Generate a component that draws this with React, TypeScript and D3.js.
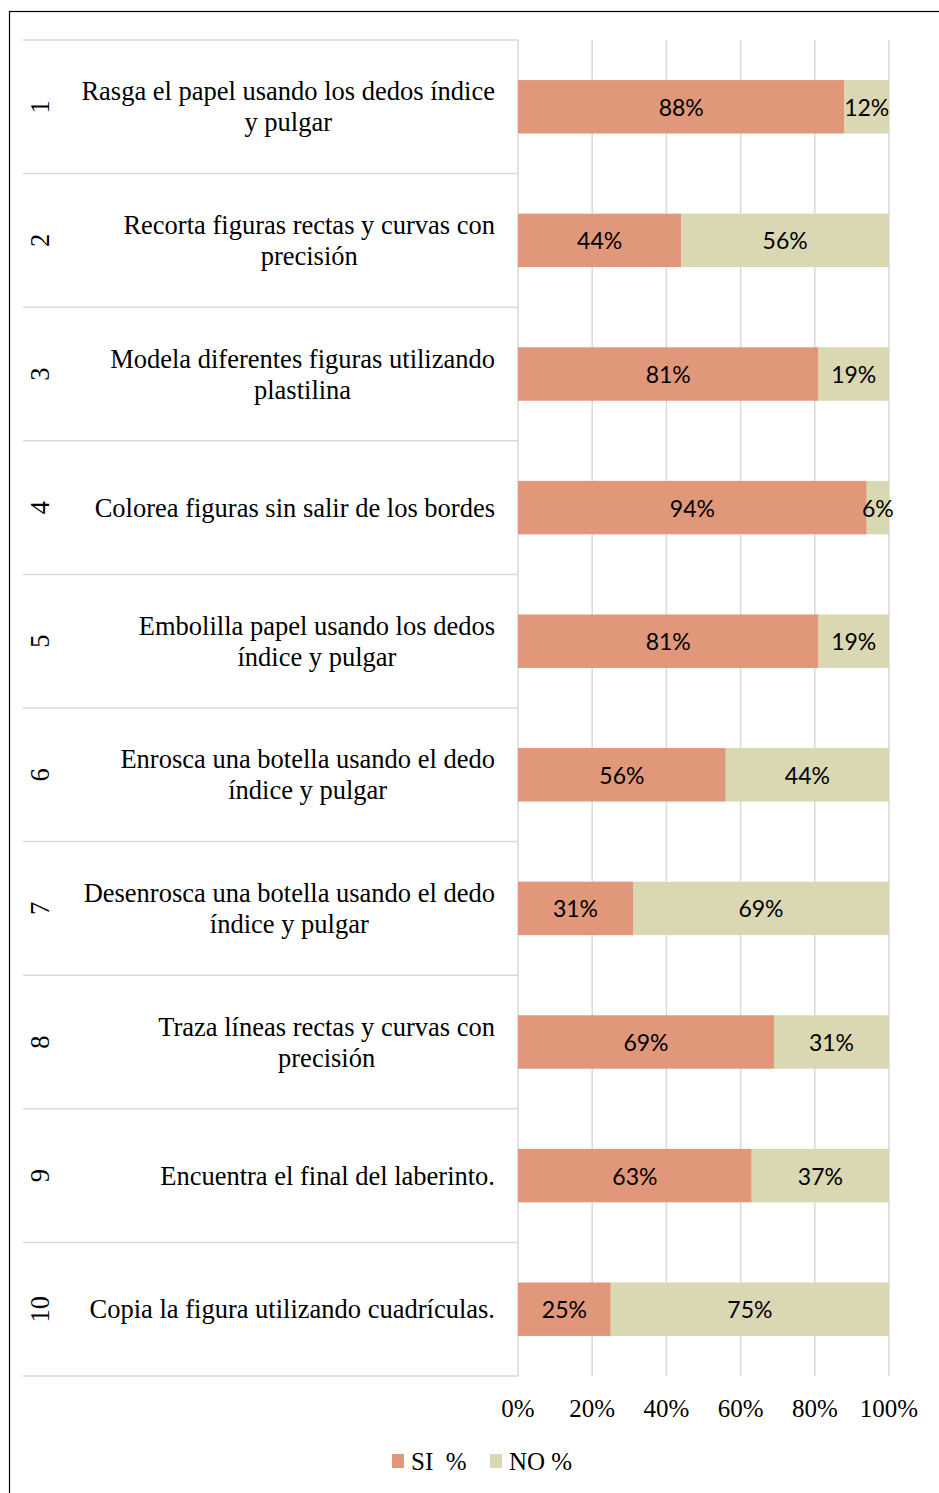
import React, { useEffect, useRef } from "react";
import * as d3 from "d3";

const categories: string[][] = [
  ["Rasga el papel usando los dedos índice", "y pulgar"],
  ["Recorta figuras rectas y curvas con", "precisión"],
  ["Modela diferentes figuras utilizando", "plastilina"],
  ["Colorea figuras sin salir de los bordes"],
  ["Embolilla papel usando los dedos", "índice y pulgar"],
  ["Enrosca una botella usando el dedo", "índice y pulgar"],
  ["Desenrosca una botella usando el dedo", "índice y pulgar"],
  ["Traza líneas rectas y curvas con", "precisión"],
  ["Encuentra el final del laberinto."],
  ["Copia la figura utilizando cuadrículas."],
];
const itemNumbers = ["1", "2", "3", "4", "5", "6", "7", "8", "9", "10"];
const siValues = [88, 44, 81, 94, 81, 56, 31, 69, 63, 25];
const noValues = [12, 56, 19, 6, 19, 44, 69, 31, 37, 75];
const xTicks = [0, 20, 40, 60, 80, 100];
const seriesNames = ["SI  %", "NO %"];
const seriesColors = ["#E1977A", "#D9D8B3"];

const W = 939;
const H = 1493;
const SERIF = "'Liberation Serif', 'Times New Roman', serif";
const SANS = "Lato, 'Noto Sans', sans-serif";

export default function App() {
  const ref = useRef<SVGSVGElement>(null);

  useEffect(() => {
    const svg = d3.select(ref.current);
    svg.selectAll("*").remove();

    const x = d3.scaleLinear().domain([0, 100]).range([518, 889]);
    const y = d3
      .scaleBand<number>()
      .domain(d3.range(categories.length))
      .range([40, 1376])
      .paddingInner(0.6)
      .paddingOuter(0.3);
    const step = y.step();
    const top = y.range()[0];
    const bottom = y.range()[1];

    // outer frame
    svg
      .append("rect")
      .attr("x", 9.5)
      .attr("y", 11.5)
      .attr("width", 940)
      .attr("height", 1500)
      .attr("fill", "none")
      .attr("stroke", "#000")
      .attr("stroke-width", 1.2);

    // vertical gridlines
    svg
      .append("g")
      .selectAll("line")
      .data(xTicks)
      .join("line")
      .attr("x1", (d) => x(d))
      .attr("x2", (d) => x(d))
      .attr("y1", top)
      .attr("y2", bottom)
      .attr("stroke", "#D9D9D9")
      .attr("stroke-width", 1.5);

    // row separators in label column
    svg
      .append("g")
      .selectAll("line")
      .data(d3.range(categories.length + 1))
      .join("line")
      .attr("x1", 23)
      .attr("x2", x(0))
      .attr("y1", (i) => top + i * step)
      .attr("y2", (i) => top + i * step)
      .attr("stroke", "#D9D9D9")
      .attr("stroke-width", 1.5);

    // bars
    const barG = svg.append("g");
    categories.forEach((_, i) => {
      const si = siValues[i];
      const no = noValues[i];
      const yy = y(i)!;
      const bh = y.bandwidth();
      barG
        .append("rect")
        .attr("x", x(0))
        .attr("y", yy)
        .attr("width", x(si) - x(0))
        .attr("height", bh)
        .attr("fill", seriesColors[0]);
      barG
        .append("rect")
        .attr("x", x(si))
        .attr("y", yy)
        .attr("width", x(si + no) - x(si))
        .attr("height", bh)
        .attr("fill", seriesColors[1]);
      barG
        .append("text")
        .attr("x", (x(0) + x(si)) / 2)
        .attr("y", yy + bh / 2)
        .attr("dominant-baseline", "central")
        .attr("text-anchor", "middle")
        .attr("font-family", SANS)
        .attr("font-size", 23)
        .attr("fill", "#000")
        .text(`${si}%`);
      barG
        .append("text")
        .attr("x", (x(si) + x(si + no)) / 2)
        .attr("y", yy + bh / 2)
        .attr("dominant-baseline", "central")
        .attr("text-anchor", "middle")
        .attr("font-family", SANS)
        .attr("font-size", 23)
        .attr("fill", "#000")
        .text(`${no}%`);
    });

    // category labels
    const labG = svg.append("g");
    categories.forEach((lines, i) => {
      const cy = y(i)! + y.bandwidth() / 2;
      // measure
      const widths = lines.map((l) => {
        const t = labG
          .append("text")
          .attr("font-family", SERIF)
          .attr("font-size", 26.5)
          .text(l);
        const w = (t.node() as SVGTextElement).getComputedTextLength();
        t.remove();
        return w;
      });
      const maxW = d3.max(widths)!;
      const right = 495;
      const cx = right - maxW / 2;
      const lh = 31;
      lines.forEach((l, k) => {
        labG
          .append("text")
          .attr("x", cx)
          .attr("y", cy + (k - (lines.length - 1) / 2) * lh)
          .attr("dominant-baseline", "central")
          .attr("text-anchor", "middle")
          .attr("font-family", SERIF)
          .attr("font-size", 26.5)
          .attr("fill", "#000")
          .text(l);
      });
      labG
        .append("text")
        .attr("transform", `translate(40,${cy}) rotate(-90)`)
        .attr("dominant-baseline", "central")
        .attr("text-anchor", "middle")
        .attr("font-family", SERIF)
        .attr("font-size", 26.5)
        .attr("fill", "#000")
        .text(itemNumbers[i]);
    });

    // x tick labels
    svg
      .append("g")
      .selectAll("text")
      .data(xTicks)
      .join("text")
      .attr("x", (d) => x(d))
      .attr("y", 1408)
      .attr("dominant-baseline", "central")
      .attr("text-anchor", "middle")
      .attr("font-family", SERIF)
      .attr("font-size", 25)
      .attr("fill", "#000")
      .text((d) => `${d}%`);

    // legend
    const legG = svg.append("g");
    const legX = [392, 490];
    seriesNames.forEach((name, k) => {
      legG
        .append("rect")
        .attr("x", legX[k])
        .attr("y", 1454)
        .attr("width", 12)
        .attr("height", 14)
        .attr("fill", seriesColors[k]);
      legG
        .append("text")
        .attr("x", legX[k] + 19)
        .attr("y", 1461)
        .attr("dominant-baseline", "central")
        .attr("font-family", SERIF)
        .attr("font-size", 25)
        .attr("fill", "#000")
        .style("white-space", "pre")
        .text(name);
    });
  }, []);

  return (
    <div style={{ position: "absolute", left: 0, top: 0 }}>
      <svg ref={ref} width={W} height={H} style={{ display: "block", background: "#fff" }} />
    </div>
  );
}
